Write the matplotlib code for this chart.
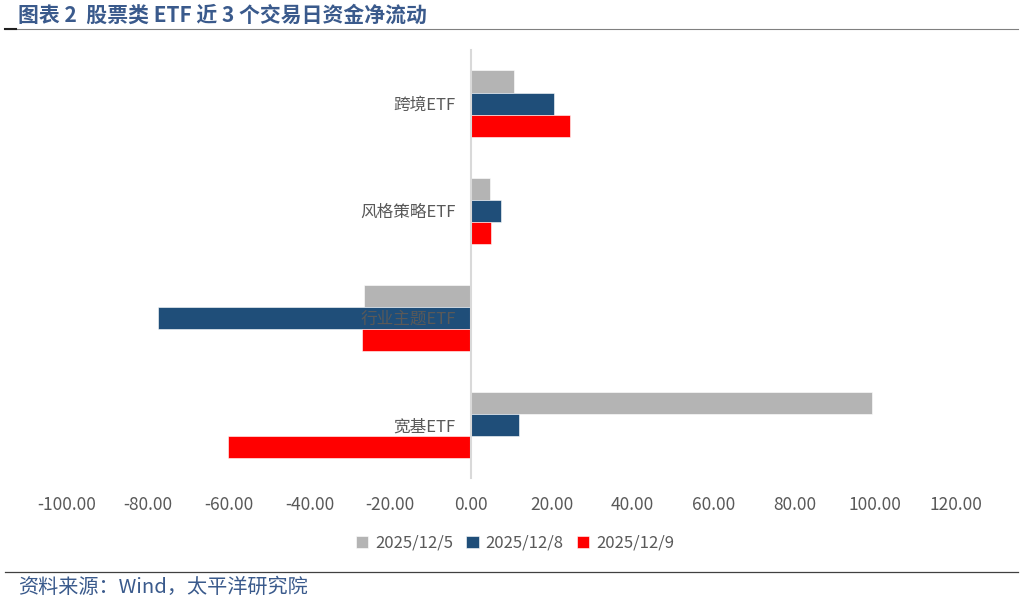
import numpy as np
import matplotlib
matplotlib.use('Agg')
import matplotlib.pyplot as plt

plt.rcParams['font.family'] = ['Noto Sans CJK SC', 'DejaVu Sans']

categories = ['跨境ETF', '风格策略ETF', '行业主题ETF', '宽基ETF']
series_names = ['2025/12/5', '2025/12/8', '2025/12/9']
flow_1205 = [10.5, 4.7, -26.6, 99.3]
flow_1208 = [20.5, 7.4, -77.5, 11.8]
flow_1209 = [24.5, 4.9, -27.0, -60.2]
colors = ['#b4b4b4', '#1f4e79', '#ff0000']
xticks = np.arange(-100, 121, 20)

fig = plt.figure(figsize=(10.23, 6.03), dpi=100)
ax = fig.add_axes([0.0655, 0.207, 0.869, 0.710])

y = np.arange(len(categories))
h = 0.206
for i, (vals, name, c) in enumerate(zip([flow_1205, flow_1208, flow_1209], series_names, colors)):
    ax.barh(y + (i - 1) * h, vals, height=h, color=c, label=name,
            edgecolor='white', linewidth=0.4, zorder=1)

# axis line at zero (set before tick styling, it resets the ticks)
for s in ['top', 'right', 'bottom']:
    ax.spines[s].set_visible(False)
ax.spines['left'].set_position(('data', 0))
ax.spines['left'].set_color('#d9d9d9')
ax.spines['left'].set_linewidth(1.5)

ax.set_ylim(len(categories) - 0.5, -0.5)
ax.set_xlim(-100, 120)
ax.set_xticks(xticks)
ax.set_xticklabels([f'{v:.2f}' for v in xticks], color='#595959', fontsize=12.5)
ax.set_yticks(y)
ax.set_yticklabels(categories, color='#595959', fontsize=12)
ax.tick_params(axis='both', length=0)
ax.tick_params(axis='x', pad=13)
ax.tick_params(axis='y', pad=11)

ax.legend(loc='center', bbox_to_anchor=(515 / 1023, 1 - 543 / 603), bbox_transform=fig.transFigure,
          ncol=3, frameon=False, fontsize=12, handlelength=0.75, handleheight=0.75,
          columnspacing=0.8, handletextpad=0.4, labelcolor='#595959')

# title and source
fig.text(18 / 1023, 1 - 15 / 603, '图表 2  股票类 ETF 近 3 个交易日资金净流动', fontsize=15,
         fontweight='bold', color='#3a5a8c', va='center', ha='left')
fig.add_artist(plt.Line2D([5 / 1023, 1018 / 1023], [1 - 29 / 603] * 2, color='#808080', lw=0.8))
fig.add_artist(plt.Line2D([5 / 1023, 16 / 1023], [1 - 29 / 603] * 2, color='#202020', lw=1.5))
fig.add_artist(plt.Line2D([5 / 1023, 1018 / 1023], [1 - 572 / 603] * 2, color='#404040', lw=0.9))
fig.text(18 / 1023, 1 - 587 / 603, '资料来源：Wind，太平洋研究院', fontsize=14.5,
         color='#3a5a8c', va='center', ha='left')

fig.savefig('out.png', dpi=100)
